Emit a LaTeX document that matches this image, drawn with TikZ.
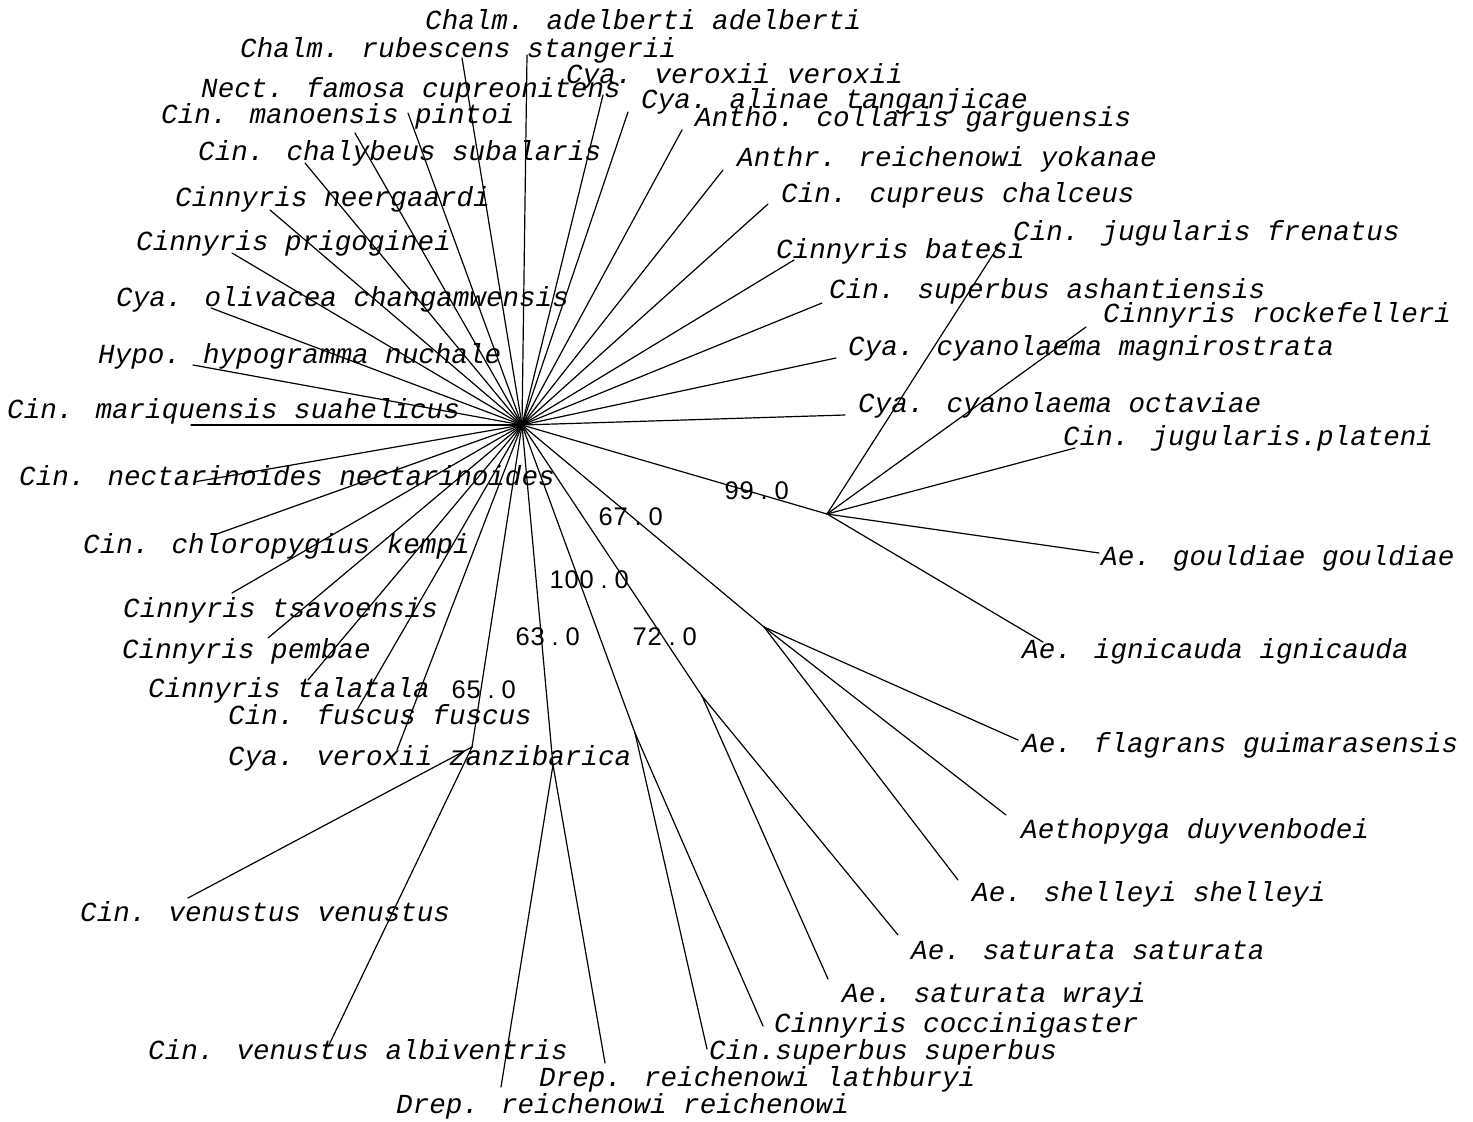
\documentclass[tikz,border=0pt]{standalone}
\usepackage{fontspec}
\newfontfamily\leaffont{Liberation Mono}
\newfontfamily\bootfont{Liberation Sans}
% bootstrap values: digits in fixed cells, the decimal point in a wider one
\newcommand\bdig[1]{\makebox[15pt][c]{#1}}
\newcommand\bdot{\makebox[20pt][c]{.}}
\tikzset{
  branch/.style={line width=1.2pt, line cap=round},
  leaf/.style={anchor=base west, inner sep=0pt,
    font=\leaffont\itshape\fontsize{27.6}{30}\selectfont},
  boot/.style={anchor=base west, inner sep=0pt,
    font=\bootfont\fontsize{25.5}{28}\selectfont},
}
\begin{document}
\begin{tikzpicture}[x=1pt,y=-1pt]
\fill[white] (0,0) rectangle (1473,1122);
\useasboundingbox (0,0) rectangle (1473,1122);

% ---- central hub and internal nodes
\coordinate (hub) at (522,425);
\coordinate (n99) at (827,514);
\coordinate (n67) at (764,627);
\coordinate (n72) at (702,696);
\coordinate (n100) at (635,733);
\coordinate (n63) at (553,765);
\coordinate (n65) at (472,747);

% ---- leaf tips joined directly to the hub
\coordinate (adelberti) at (527,55);
\coordinate (stangerii) at (462,58);
\coordinate (cupreonitens) at (408,113);
\coordinate (pintoi) at (355,133);
\coordinate (subalaris) at (305,163);
\coordinate (neergaardi) at (270,210);
\coordinate (prigoginei) at (232,253);
\coordinate (changamwensis) at (211,308);
\coordinate (nuchale) at (193,365);
\coordinate (suahelicus) at (191,425);
\coordinate (nectarinoides) at (194,482);
\coordinate (kempi) at (214,535);
\coordinate (tsavoensis) at (232,593);
\coordinate (pembae) at (268,638);
\coordinate (talatala) at (308,680);
\coordinate (fuscus) at (357,710);
\coordinate (zanzibarica) at (397,750);
\coordinate (octaviae) at (845,415);
\coordinate (magnirostrata) at (836,358);
\coordinate (ashantiensis) at (822,303);
\coordinate (batesi) at (794,260);
\coordinate (chalceus) at (768,204);
\coordinate (yokanae) at (723,170);
\coordinate (garguensis) at (682,130);
\coordinate (tanganjicae) at (628,112);
\coordinate (veroxii) at (603,95);

% ---- leaf tips on internal nodes
\coordinate (venustus) at (188,898);
\coordinate (albiventris) at (328,1047);
\coordinate (reichenowi) at (501,1087);
\coordinate (lathburyi) at (605,1063);
\coordinate (superbus) at (707,1049);
\coordinate (coccinigaster) at (763,1026);
\coordinate (wrayi) at (828,979);
\coordinate (saturata) at (898,935);
\coordinate (shelleyi) at (958,880);
\coordinate (duyvenbodei) at (1006,815);
\coordinate (flagrans) at (1018,740);
\coordinate (ignicauda) at (1043,642);
\coordinate (gouldiae) at (1099,553);
\coordinate (plateni) at (1075,448);
\coordinate (rockefelleri) at (1086,327);
\coordinate (frenatus) at (1001,242);

% ---- branches
\foreach \t in {adelberti,stangerii,cupreonitens,pintoi,subalaris,neergaardi,
  prigoginei,changamwensis,nuchale,suahelicus,nectarinoides,kempi,tsavoensis,
  pembae,talatala,fuscus,zanzibarica,octaviae,magnirostrata,ashantiensis,
  batesi,chalceus,yokanae,garguensis,tanganjicae,veroxii,
  n99,n67,n72,n100,n63,n65}
  \draw[branch] (hub) -- (\t);
\foreach \t in {venustus,albiventris} \draw[branch] (n65) -- (\t);
\foreach \t in {reichenowi,lathburyi} \draw[branch] (n63) -- (\t);
\foreach \t in {superbus,coccinigaster} \draw[branch] (n100) -- (\t);
\foreach \t in {wrayi,saturata} \draw[branch] (n72) -- (\t);
\foreach \t in {shelleyi,duyvenbodei,flagrans} \draw[branch] (n67) -- (\t);
\foreach \t in {ignicauda,gouldiae,plateni,rockefelleri,frenatus} \draw[branch] (n99) -- (\t);

% ---- taxon labels
\node[leaf] (t1)  at (425,29)   {Chalm. adelberti adelberti};
\node[leaf] (t2)  at (240,57)   {Chalm. rubescens stangerii};
\node[leaf] (t3)  at (566,83)   {Cya. veroxii veroxii};
\node[leaf] (t4)  at (201,97)   {Nect. famosa cupreonitens};
\node[leaf] (t5)  at (641,108)  {Cya. alinae tanganjicae};
\node[leaf] (t6)  at (161,123)  {Cin. manoensis pintoi};
\node[leaf] (t7)  at (695,126)  {Antho. collaris garguensis};
\node[leaf] (t8)  at (198,160)  {Cin. chalybeus subalaris};
\node[leaf] (t9)  at (737,166)  {Anthr. reichenowi yokanae};
\node[leaf] (t10) at (781,202)  {Cin. cupreus chalceus};
\node[leaf] (t11) at (175,206)  {Cinnyris neergaardi};
\node[leaf] (t12) at (1013,240) {Cin. jugularis frenatus};
\node[leaf] (t13) at (136,250)  {Cinnyris prigoginei};
\node[leaf] (t14) at (776,258)  {Cinnyris batesi};
\node[leaf] (t15) at (829,298)  {Cin. superbus ashantiensis};
\node[leaf] (t16) at (116,306)  {Cya. olivacea changamwensis};
\node[leaf] (t17) at (1103,322) {Cinnyris rockefelleri};
\node[leaf] (t18) at (848,355)  {Cya. cyanolaema magnirostrata};
\node[leaf] (t19) at (98,363)   {Hypo. hypogramma nuchale};
\node[leaf] (t20) at (858,412)  {Cya. cyanolaema octaviae};
\node[leaf] (t21) at (7,418)    {Cin. mariquensis suahelicus};
\node[leaf] (t22) at (1063,445) {Cin. jugularis.plateni};
\node[leaf] (t23) at (19,485)   {Cin. nectarinoides nectarinoides};
\node[leaf] (t24) at (83,553)   {Cin. chloropygius kempi};
\node[leaf] (t25) at (1101,565) {Ae. gouldiae gouldiae};
\node[leaf] (t26) at (123,617)  {Cinnyris tsavoensis};
\node[leaf] (t27) at (122,658)  {Cinnyris pembae};
\node[leaf] (t28) at (1022,658) {Ae. ignicauda ignicauda};
\node[leaf] (t29) at (148,697)  {Cinnyris talatala};
\node[leaf] (t30) at (228,724)  {Cin. fuscus fuscus};
\node[leaf] (t31) at (1022,752) {Ae. flagrans guimarasensis};
\node[leaf] (t32) at (228,765)  {Cya. veroxii zanzibarica};
\node[leaf] (t33) at (1021,838) {Aethopyga duyvenbodei};
\node[leaf] (t34) at (972,901)  {Ae. shelleyi shelleyi};
\node[leaf] (t35) at (80,921)   {Cin. venustus venustus};
\node[leaf] (t36) at (911,959)  {Ae. saturata saturata};
\node[leaf] (t37) at (842,1002) {Ae. saturata wrayi};
\node[leaf] (t38) at (774,1032) {Cinnyris coccinigaster};
\node[leaf] (t39) at (148,1059) {Cin. venustus albiventris};
\node[leaf] (t40) at (709,1059) {Cin.superbus superbus};
\node[leaf] (t41) at (539,1086) {Drep. reichenowi lathburyi};
\node[leaf] (t42) at (396,1113) {Drep. reichenowi reichenowi};

% ---- bootstrap values
\node[boot] (b99)  at (724,499) {\bdig{9}\bdig{9}\bdot\bdig{0}};
\node[boot] (b67)  at (598,525) {\bdig{6}\bdig{7}\bdot\bdig{0}};
\node[boot] (b100) at (549,588) {\bdig{1}\bdig{0}\bdig{0}\bdot\bdig{0}};
\node[boot] (b63)  at (515,645) {\bdig{6}\bdig{3}\bdot\bdig{0}};
\node[boot] (b72)  at (632,645) {\bdig{7}\bdig{2}\bdot\bdig{0}};
\node[boot] (b65)  at (451,698) {\bdig{6}\bdig{5}\bdot\bdig{0}};
\end{tikzpicture}
\end{document}
